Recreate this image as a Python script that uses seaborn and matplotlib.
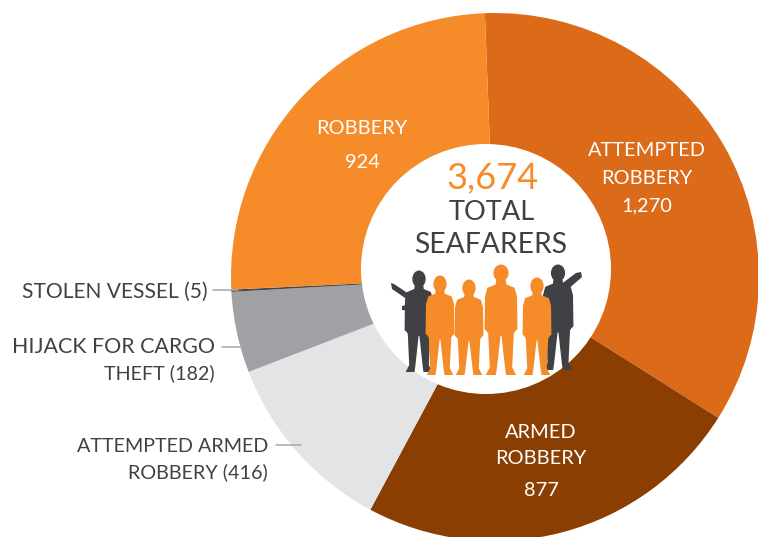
import matplotlib
matplotlib.use("Agg")
import matplotlib.pyplot as plt
from matplotlib.patches import Circle, Ellipse, Polygon
import seaborn as sns

categories = ["ATTEMPTED\nROBBERY", "ARMED\nROBBERY", "ATTEMPTED ARMED\nROBBERY",
              "HIJACK FOR CARGO\nTHEFT", "STOLEN VESSEL", "ROBBERY"]
values = [1270, 877, 416, 182, 5, 924]
value_labels = ["1,270", "877", "416", "182", "5", "924"]
total_label = "3,674"
center_lines = ["TOTAL", "SEAFARERS"]
colors = ["#DB6B19", "#8B3E02", "#E3E4E6", "#A0A1A4", "#47484C", "#F68B2A"]

W, H = 758, 537
ORANGE = "#F68B2A"
DARK = "#404145"

sns.set_theme(style="white")
plt.rcParams["font.family"] = ["Lato", "DejaVu Sans"]

fig = plt.figure(figsize=(W / 100, H / 100), dpi=100, facecolor="white")
ax = fig.add_axes([0, 0, 1, 1])


def Y(y):
    return H - y


ax.pie(values, colors=colors, startangle=92.2, counterclock=False,
       center=(495, Y(277)), radius=264, frame=True,
       wedgeprops={"linewidth": 0, "edgecolor": "none"})
ax.set_xlim(0, W)
ax.set_ylim(0, H)
ax.set_aspect("equal")
ax.axis("off")

ax.add_patch(Circle((486, Y(269)), 125, fc="white", ec="none", zorder=3))

# Silhouettes
half = [(0.3, 0.13), (0.34, 0.17), (0.85, 0.2), (1.0, 0.28), (1.03, 0.58), (0.88, 0.6),
        (0.8, 0.62), (0.7, 0.93), (0.95, 1.0), (0.32, 1.0), (0.26, 0.94), (0.03, 0.64)]
body = [(-x, y) for x, y in reversed(half)] + half


def person(cx, head_y, feet_y, hw, color, z):
    top = head_y - 7
    h = feet_y - top
    pts = [(cx + x * hw, Y(top + y * h)) for x, y in body]
    ax.add_patch(Polygon(pts, closed=True, fc=color, ec="none", zorder=z))
    ax.add_patch(Ellipse((cx, Y(head_y)), hw * 0.95, 17, fc=color, ec="none", zorder=z))


person(419, 279, 372, 14, DARK, 4)
ax.add_patch(Polygon([(x, Y(y)) for x, y in [(391, 283), (394, 284), (412, 296), (414, 320),
                                              (412, 311), (402, 310), (402, 306), (410, 304),
                                              (408, 300), (392, 289)]],
                     closed=True, fc=DARK, ec="none", zorder=4))
person(558, 273, 370, 15, DARK, 4)
ax.add_patch(Polygon([(x, Y(y)) for x, y in [(581, 272), (582, 277), (566, 291), (566, 300),
                                              (556, 288), (576, 273)]],
                     closed=True, fc=DARK, ec="none", zorder=4))
person(440, 284, 375, 14, ORANGE, 5)
person(469, 288, 375, 14, ORANGE, 5)
person(501, 273, 375, 16, ORANGE, 5)
person(537, 286, 375, 14, ORANGE, 5)


def label(x, y, s, size, color="white", ha="center", z=6):
    ax.text(x, Y(y + 2), s, fontsize=size, color=color, ha=ha, va="center", zorder=z)


FS = 14.4
# Inside wedge labels
rob = categories[5].split("\n")
label(362, 127, rob[0], FS)
label(362, 160, value_labels[5], FS)
att = categories[0].split("\n")
label(647, 149, att[0], FS)
label(647, 176, att[1], FS)
label(647, 204, value_labels[0], FS)
arm = categories[1].split("\n")
label(541, 431, arm[0], FS)
label(541, 456, arm[1], FS)
label(541, 489, value_labels[1], FS)

# Centre
label(492, 176, total_label, 26, ORANGE)
label(492, 210, center_lines[0], 19.6, DARK)
label(491, 243, center_lines[1], 20.3, DARK)

# Outside labels
label(208, 290, f"{categories[4]} ({value_labels[4]})", 15.1, DARK, "right")
hij = categories[3].split("\n")
label(215, 345, hij[0], 15.4, DARK, "right")
label(215, 371, f"{hij[1]} ({value_labels[3]})", 14.2, DARK, "right")
aar = categories[2].split("\n")
label(268, 444, aar[0], 14.2, DARK, "right")
label(268, 470, f"{aar[1]} ({value_labels[2]})", 14.2, DARK, "right")

# Leader lines
for x0, x1, y in [(213, 238, 290), (222, 240, 347), (276, 301, 445)]:
    ax.plot([x0, x1], [Y(y), Y(y)], color="#A6A7A9", lw=1.1, zorder=6)

fig.savefig("out.png", dpi=100, facecolor="white")
